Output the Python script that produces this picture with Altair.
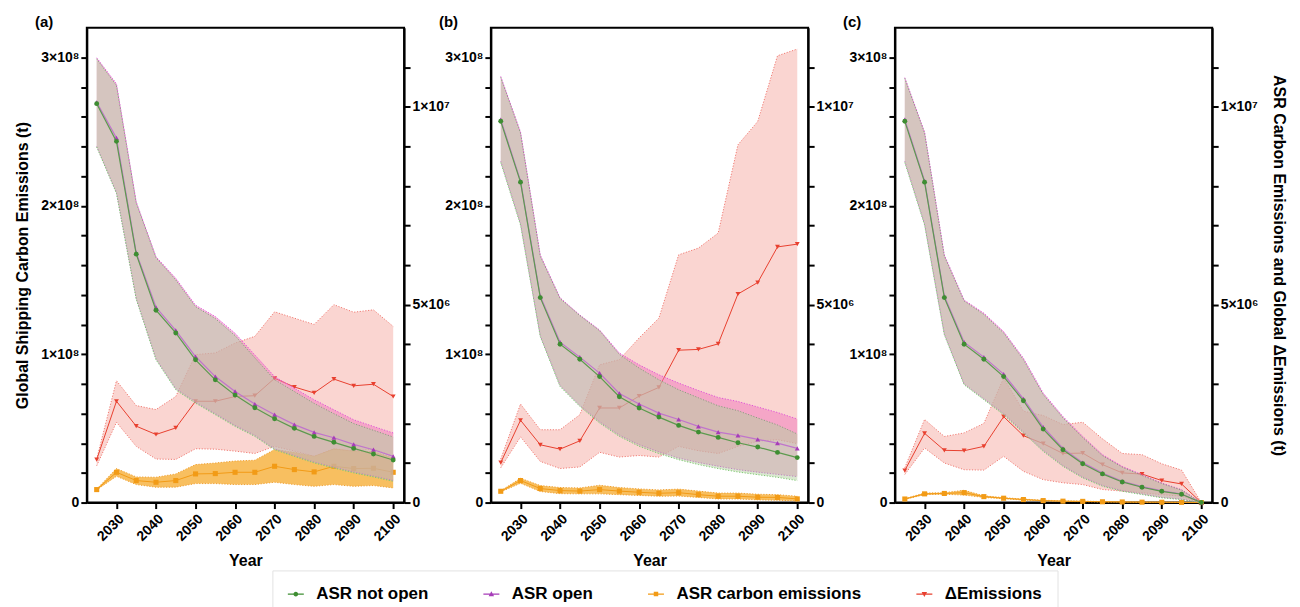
import altair as alt
import pandas as pd

years = list(range(2025, 2101, 5))

# ---------- Panel (a) ----------  left axis values in 1e8 t, right axis values in 1e6 t
a_not_open = [2.688, 2.434, 1.674, 1.296, 1.143, 0.962, 0.827, 0.724, 0.639, 0.565, 0.500, 0.446, 0.406, 0.365, 0.327, 0.287]
a_not_hi   = [2.990, 2.810, 2.020, 1.650, 1.500, 1.320, 1.240, 1.125, 0.975, 0.828, 0.748, 0.668, 0.599, 0.532, 0.487, 0.442]
a_not_lo   = [2.396, 2.083, 1.370, 0.962, 0.760, 0.670, 0.592, 0.513, 0.446, 0.356, 0.311, 0.267, 0.233, 0.200, 0.173, 0.143]
a_open     = [2.697, 2.457, 1.683, 1.316, 1.161, 0.984, 0.849, 0.749, 0.664, 0.592, 0.525, 0.473, 0.437, 0.392, 0.356, 0.311]
a_open_hi  = [2.997, 2.822, 2.026, 1.656, 1.511, 1.330, 1.253, 1.141, 0.995, 0.849, 0.771, 0.693, 0.625, 0.558, 0.513, 0.469]
a_open_lo  = [2.400, 2.090, 1.375, 0.970, 0.768, 0.678, 0.600, 0.520, 0.453, 0.362, 0.317, 0.273, 0.239, 0.206, 0.179, 0.149]
a_asr      = [0.328, 0.765, 0.556, 0.513, 0.556, 0.724, 0.732, 0.765, 0.765, 0.917, 0.833, 0.775, 0.917, 0.859, 0.867, 0.765]
a_asr_hi   = [0.340, 0.859, 0.648, 0.640, 0.724, 0.960, 1.000, 1.050, 1.070, 1.340, 1.270, 1.170, 1.360, 1.300, 1.290, 1.130]
a_asr_lo   = [0.320, 0.665, 0.455, 0.387, 0.390, 0.480, 0.480, 0.455, 0.455, 0.513, 0.455, 0.410, 0.455, 0.410, 0.430, 0.370]
a_delta    = [1.086, 2.560, 1.930, 1.720, 1.886, 2.560, 2.560, 2.680, 2.700, 3.140, 2.920, 2.770, 3.120, 2.950, 2.990, 2.680]
a_delta_hi = [1.100, 3.080, 2.450, 2.350, 2.680, 3.740, 3.780, 4.030, 4.200, 4.820, 4.660, 4.500, 5.000, 4.810, 4.870, 4.450]
a_delta_lo = [0.930, 2.030, 1.420, 1.100, 1.090, 1.360, 1.350, 1.300, 1.240, 1.420, 1.300, 1.170, 1.350, 1.300, 1.350, 1.170]

# ---------- Panel (b) ----------
b_not_open = [2.569, 2.159, 1.381, 1.067, 0.966, 0.849, 0.713, 0.637, 0.576, 0.520, 0.475, 0.439, 0.403, 0.374, 0.338, 0.303]
b_not_hi   = [2.865, 2.490, 1.660, 1.375, 1.260, 1.158, 0.998, 0.906, 0.827, 0.760, 0.706, 0.652, 0.619, 0.570, 0.523, 0.462]
b_not_lo   = [2.291, 1.870, 1.118, 0.782, 0.648, 0.536, 0.446, 0.379, 0.330, 0.289, 0.256, 0.229, 0.206, 0.188, 0.170, 0.148]
b_open     = [2.580, 2.168, 1.390, 1.081, 0.980, 0.872, 0.735, 0.664, 0.603, 0.560, 0.513, 0.475, 0.453, 0.426, 0.401, 0.365]
b_open_hi  = [2.871, 2.497, 1.668, 1.380, 1.264, 1.163, 1.007, 0.928, 0.861, 0.805, 0.755, 0.708, 0.681, 0.644, 0.607, 0.563]
b_open_lo  = [2.300, 1.880, 1.125, 0.790, 0.655, 0.545, 0.455, 0.390, 0.342, 0.300, 0.270, 0.245, 0.222, 0.205, 0.190, 0.175]
b_asr      = [0.285, 0.556, 0.354, 0.303, 0.290, 0.328, 0.290, 0.260, 0.235, 0.250, 0.200, 0.160, 0.160, 0.135, 0.130, 0.093]
b_asr_hi   = [0.300, 0.614, 0.430, 0.380, 0.370, 0.437, 0.380, 0.345, 0.320, 0.340, 0.290, 0.240, 0.240, 0.210, 0.200, 0.160]
b_asr_lo   = [0.270, 0.488, 0.280, 0.225, 0.220, 0.220, 0.200, 0.180, 0.160, 0.165, 0.130, 0.090, 0.090, 0.070, 0.060, 0.040]
b_delta    = [1.010, 2.080, 1.460, 1.350, 1.560, 2.390, 2.390, 2.690, 2.910, 3.850, 3.870, 4.010, 5.270, 5.560, 6.460, 6.530]
b_delta_hi = [1.100, 2.490, 1.840, 1.840, 2.220, 3.480, 3.610, 4.160, 4.660, 6.260, 6.430, 6.810, 9.040, 9.630, 11.290, 11.460]
b_delta_lo = [0.880, 1.660, 1.040, 0.860, 0.900, 1.270, 1.150, 1.190, 1.150, 1.420, 1.310, 1.240, 1.420, 1.550, 1.590, 1.490]

# ---------- Panel (c) ----------
c_not_open = [2.569, 2.159, 1.381, 1.067, 0.966, 0.849, 0.686, 0.495, 0.356, 0.262, 0.193, 0.139, 0.103, 0.076, 0.056, 0.000]
c_not_hi   = [2.858, 2.490, 1.660, 1.358, 1.268, 1.143, 0.963, 0.728, 0.571, 0.438, 0.316, 0.238, 0.183, 0.128, 0.084, 0.000]
c_not_lo   = [2.291, 1.870, 1.130, 0.794, 0.693, 0.592, 0.469, 0.345, 0.244, 0.166, 0.110, 0.076, 0.054, 0.032, 0.020, 0.000]
c_open     = [2.580, 2.168, 1.390, 1.081, 0.980, 0.866, 0.699, 0.509, 0.365, 0.269, 0.199, 0.143, 0.107, 0.079, 0.058, 0.000]
c_open_hi  = [2.863, 2.497, 1.668, 1.365, 1.276, 1.152, 0.973, 0.738, 0.580, 0.446, 0.323, 0.244, 0.188, 0.132, 0.087, 0.000]
c_open_lo  = [2.300, 1.878, 1.137, 0.800, 0.700, 0.600, 0.476, 0.352, 0.250, 0.172, 0.115, 0.080, 0.058, 0.035, 0.023, 0.000]
c_asr      = [0.090, 0.220, 0.230, 0.250, 0.150, 0.110, 0.076, 0.050, 0.035, 0.030, 0.020, 0.015, 0.010, 0.008, 0.005, 0.000]
c_asr_hi   = [0.100, 0.240, 0.250, 0.310, 0.170, 0.125, 0.088, 0.060, 0.043, 0.037, 0.026, 0.020, 0.014, 0.011, 0.007, 0.000]
c_asr_lo   = [0.080, 0.200, 0.210, 0.190, 0.130, 0.095, 0.064, 0.040, 0.027, 0.023, 0.014, 0.010, 0.006, 0.005, 0.003, 0.000]
c_delta    = [0.810, 1.750, 1.320, 1.310, 1.420, 2.170, 1.690, 1.490, 1.240, 1.250, 0.960, 0.750, 0.720, 0.556, 0.470, 0.000]
c_delta_hi = [0.880, 2.100, 1.670, 1.760, 2.000, 3.150, 2.310, 2.200, 1.970, 2.030, 1.610, 1.240, 1.210, 0.980, 0.820, 0.000]
c_delta_lo = [0.710, 1.380, 1.000, 0.830, 0.820, 1.170, 0.790, 0.580, 0.500, 0.455, 0.330, 0.290, 0.250, 0.200, 0.160, 0.000]

series_names = ["ASR not open", "ASR open", "ASR carbon emissions", "\u0394Emissions"]
series_colors = ["#3e8e32", "#a63cb8", "#f29b16", "#e8402f"]
# legend symbols: short line with the series marker in the middle
series_symbols = [
    "M-1,-0.07H1V0.07H-1Z M0,-0.3A0.3,0.3 0 1 1 0,0.3A0.3,0.3 0 1 1 0,-0.3Z",
    "M-1,-0.07H1V0.07H-1Z M0,-0.36L0.34,0.26H-0.34Z",
    "M-1,-0.07H1V0.07H-1Z M-0.28,-0.28H0.28V0.28H-0.28Z",
    "M-1,-0.07H1V0.07H-1Z M-0.34,-0.26H0.34L0,0.36Z",
]

left_ticks = [i * 2e7 for i in range(0, 16)]
right_ticks = [i * 1e6 for i in range(0, 12)]
year_ticks = list(range(2030, 2101, 10))

FONT = "Liberation Sans"
L = 1e8
R = 1e6


def make_df(no, no_hi, no_lo, op, op_hi, op_lo, asr, asr_hi, asr_lo, d, d_hi, d_lo):
    return pd.DataFrame({
        "year": years,
        "not_open": [v * L for v in no], "not_hi": [v * L for v in no_hi], "not_lo": [v * L for v in no_lo],
        "open": [v * L for v in op], "open_hi": [v * L for v in op_hi], "open_lo": [v * L for v in op_lo],
        "asr": [v * R for v in asr], "asr_hi": [v * R for v in asr_hi], "asr_lo": [v * R for v in asr_lo],
        "d": [v * R for v in d], "d_hi": [v * R for v in d_hi], "d_lo": [v * R for v in d_lo],
    })


dfs = [
    make_df(a_not_open, a_not_hi, a_not_lo, a_open, a_open_hi, a_open_lo, a_asr, a_asr_hi, a_asr_lo, a_delta, a_delta_hi, a_delta_lo),
    make_df(b_not_open, b_not_hi, b_not_lo, b_open, b_open_hi, b_open_lo, b_asr, b_asr_hi, b_asr_lo, b_delta, b_delta_hi, b_delta_lo),
    make_df(c_not_open, c_not_hi, c_not_lo, c_open, c_open_hi, c_open_lo, c_asr, c_asr_hi, c_asr_lo, c_delta, c_delta_hi, c_delta_lo),
]

left_label = ("datum.value == 0 ? '0' : (datum.value % 100000000 == 0 ? "
              "format(datum.value / 100000000, 'd') + '\u00d710\u2078' : '')")
right_label = ("datum.value == 0 ? '0' : (datum.value == 5000000 ? '5\u00d710\u2076' : "
               "(datum.value == 10000000 ? '1\u00d710\u2077' : ''))")


def panel(df, label, left_title, right_title, with_legend):
    xs = alt.Scale(domain=[2022.5, 2102.75], nice=False, zero=False)
    xaxis = alt.Axis(values=year_ticks, labelAngle=-45, title="Year", format="d",
                     titleFontSize=16, titlePadding=9, labelPadding=3)
    x = alt.X("year:Q", scale=xs, axis=xaxis)

    ls = alt.Scale(domain=[0, 3.2e8], nice=False, zero=True)
    rs = alt.Scale(domain=[0, 1.2e7], nice=False, zero=True)
    laxis_kw = dict(orient="left", values=left_ticks, labelExpr=left_label, titlePadding=10, titleFontSize=16)
    raxis_kw = dict(orient="right", values=right_ticks, labelExpr=right_label, titlePadding=12, titleFontSize=16,
                    labelFontSize=14)
    laxis = alt.Axis(title=left_title, **laxis_kw) if left_title else alt.Axis(title=None, **laxis_kw)
    raxis = alt.Axis(title=right_title, **raxis_kw) if right_title else alt.Axis(title=None, **raxis_kw)

    def ly(f):
        return alt.Y(f"{f}:Q", scale=ls, axis=laxis)

    def ry(f):
        return alt.Y(f"{f}:Q", scale=rs, axis=raxis)

    base = alt.Chart(df)
    dot = [1.2, 1.6]

    right_layers = [
        base.mark_area(color="#f08a80", opacity=0.36).encode(x=x, y=ry("d_lo"), y2="d_hi:Q"),
        base.mark_line(color="#f07a72", strokeDash=dot, strokeWidth=1).encode(x=x, y=ry("d_hi")),
        base.mark_line(color="#f07a72", strokeDash=dot, strokeWidth=1).encode(x=x, y=ry("d_lo")),
        base.mark_line(color="#e8402f", strokeWidth=1).encode(x=x, y=ry("d")),
        base.mark_point(shape="triangle-down", filled=True, size=24, color="#e8402f", opacity=1).encode(x=x, y=ry("d")),
        base.mark_area(color="#f5a623", opacity=0.72).encode(x=x, y=ry("asr_lo"), y2="asr_hi:Q"),
        base.mark_line(color="#f0a030", strokeDash=dot, strokeWidth=1).encode(x=x, y=ry("asr_hi")),
        base.mark_line(color="#f0a030", strokeDash=dot, strokeWidth=1).encode(x=x, y=ry("asr_lo")),
        base.mark_line(color="#f29b16", strokeWidth=1).encode(x=x, y=ry("asr")),
        base.mark_point(shape="square", filled=True, size=26, color="#f29b16", opacity=1).encode(x=x, y=ry("asr")),
    ]
    left_layers = [
        base.mark_area(color="#f078be", opacity=0.5).encode(x=x, y=ly("open_lo"), y2="open_hi:Q"),
        base.mark_area(color="#b3cfa0", opacity=0.5).encode(x=x, y=ly("not_lo"), y2="not_hi:Q"),
        base.mark_line(color="#e050d8", strokeDash=dot, strokeWidth=1).encode(x=x, y=ly("open_hi")),
        base.mark_line(color="#c080c0", strokeDash=dot, strokeWidth=1).encode(x=x, y=ly("open_lo")),
        base.mark_line(color="#8a9e80", strokeDash=dot, strokeWidth=1).encode(x=x, y=ly("not_hi")),
        base.mark_line(color="#7cc870", strokeDash=dot, strokeWidth=1).encode(x=x, y=ly("not_lo")),
        base.mark_line(color="#c074cc", strokeWidth=1.2).encode(x=x, y=ly("open")),
        base.mark_point(shape="triangle-up", filled=True, size=24, color="#a63cb8", opacity=1).encode(x=x, y=ly("open")),
        base.mark_line(color="#5c9a4e", strokeWidth=1.2).encode(x=x, y=ly("not_open")),
        base.mark_point(shape="circle", filled=True, size=24, color="#3e8e32", opacity=1).encode(x=x, y=ly("not_open")),
    ]
    if with_legend:
        leg_df = pd.DataFrame({"series": series_names, "year": [1990] * 4, "v": [0.0] * 4})
        leg_kw = dict(orient="none", legendX=186, legendY=544, direction="horizontal", columns=4,
                      title=None, symbolSize=256, symbolStrokeWidth=0, labelFont=FONT,
                      labelFontSize=17, labelFontWeight="bold", labelColor="black", labelOffset=12,
                      labelLimit=400, columnPadding=54, padding=15, strokeColor="#e2e2e2")
        left_layers.append(
            alt.Chart(leg_df).mark_point(filled=True, clip=True, opacity=1).encode(
                x=x, y=ly("v"),
                color=alt.Color("series:N", scale=alt.Scale(domain=series_names, range=series_colors),
                                legend=alt.Legend(**leg_kw)),
                shape=alt.Shape("series:N", scale=alt.Scale(domain=series_names, range=series_symbols),
                                legend=alt.Legend(**leg_kw)),
            )
        )

    right = alt.layer(*right_layers)
    left = alt.layer(*left_layers)
    return alt.layer(right, left).resolve_scale(y="independent").properties(
        width=318, height=476,
        title=alt.TitleParams(label, anchor="start", frame="group", dx=-52, fontSize=15, font=FONT,
                              fontWeight="bold", offset=-2, color="black"),
    )


pa = panel(dfs[0], "(a)", "Global Shipping Carbon Emissions (t)", None, True)
pb = panel(dfs[1], "(b)", None, None, False)
pc = panel(dfs[2], "(c)", None, "ASR Carbon Emissions and Global \u0394Emissions (t)", False)

chart = alt.hconcat(pa, pb, pc, spacing=87, bounds="flush", background="white").configure_view(
    stroke="black", strokeWidth=2
).configure_axis(
    domainColor="black", domainWidth=2, tickColor="black", tickWidth=2, tickSize=6,
    labelFont=FONT, labelFontWeight="bold", labelFontSize=14, labelColor="black",
    titleFont=FONT, titleFontWeight="bold", titleColor="black", grid=False, labelPadding=2,
)

chart.save("out.html", embed_options={"renderer": "svg", "actions": False})
